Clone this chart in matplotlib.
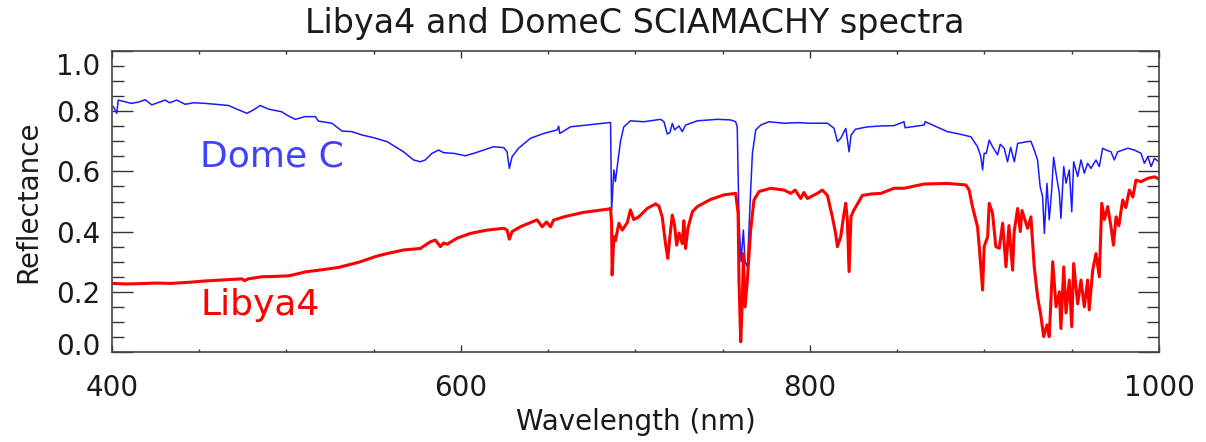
import matplotlib
matplotlib.use("Agg")
import matplotlib.pyplot as plt
from matplotlib.ticker import MultipleLocator, FixedLocator
from matplotlib.transforms import ScaledTranslation

# ---------------- data ----------------
domec_wl = [400.8, 402.7, 403.6, 407, 411, 415, 419, 422.8, 427, 430.4, 433, 437, 441.9, 447,
            453.4, 459, 466.7, 471.5, 477.3, 481, 484.9, 489.7, 497.3, 500.2, 505, 510.7, 516.5,
            518.3, 526, 531.8, 537.5, 543.3, 549.9, 557.6, 567.1, 572.8, 576.7, 579.5, 583.4,
            587.2, 590, 595.8, 602.5, 607.3, 613, 618.7, 624.5, 626.4, 627.7, 629.3, 633, 639.8,
            647.4, 655.1, 656, 656.6, 662.7, 672.3, 684.7, 685.7, 686.3, 687.6, 688.5, 689.5,
            691.4, 693.3, 697.1, 704.8, 714.4, 716.3, 718.2, 719.7, 721.1, 722.4, 724.9, 726.8,
            728.7, 735.4, 746.9, 754.5, 757.4, 758.3, 759.3, 760.5, 761.8, 762.8, 764.1, 766,
            767, 768.9, 771.8, 776.5, 785.1, 792.8, 800.4, 810, 813.8, 815.7, 817.6, 820.5,
            822.4, 823.5, 826, 833, 840.6, 848, 853.9, 854.5, 865.4, 866, 878.8, 885, 892.2,
            896, 897.9, 898.9, 899.8, 901, 902.7, 904.6, 907.5, 909, 911.3, 913.2, 915, 917.1,
            919, 924.7, 926.6, 928.5, 930.4, 931.9, 933.3, 934.3, 935.8, 937.1, 938.5, 939.6,
            941, 942.9, 943.8, 945.4, 946.7, 948.6, 950, 951.1, 953.4, 955.3, 957.2, 959.1,
            961, 963.9, 965.8, 967.7, 969.6, 972.5, 974.4, 976.3, 982.1, 985.9, 989.7, 991.6,
            993.6, 995.5, 997.4, 1000]
domec_refl = [0.815, 0.793, 0.837, 0.832, 0.826, 0.830, 0.838, 0.821, 0.830, 0.837, 0.828, 0.837,
              0.823, 0.828, 0.826, 0.823, 0.819, 0.807, 0.793, 0.804, 0.819, 0.807, 0.798, 0.787,
              0.773, 0.782, 0.782, 0.767, 0.760, 0.734, 0.732, 0.721, 0.712, 0.699, 0.665, 0.638,
              0.632, 0.638, 0.660, 0.671, 0.662, 0.660, 0.652, 0.660, 0.671, 0.682, 0.679, 0.665,
              0.610, 0.649, 0.677, 0.710, 0.726, 0.738, 0.750, 0.726, 0.748, 0.754, 0.762, 0.762,
              0.472, 0.605, 0.566, 0.615, 0.700, 0.748, 0.768, 0.765, 0.773, 0.765, 0.724, 0.729,
              0.759, 0.738, 0.751, 0.732, 0.754, 0.768, 0.773, 0.771, 0.765, 0.748, 0.439, 0.300,
              0.405, 0.300, 0.283, 0.538, 0.660, 0.738, 0.754, 0.765, 0.760, 0.762, 0.760, 0.760,
              0.743, 0.699, 0.710, 0.743, 0.665, 0.720, 0.740, 0.748, 0.751, 0.752, 0.765, 0.745,
              0.754, 0.765, 0.732, 0.725, 0.715, 0.682, 0.649, 0.605, 0.660, 0.660, 0.704, 0.682,
              0.655, 0.690, 0.677, 0.632, 0.680, 0.632, 0.693, 0.699, 0.700, 0.671, 0.638, 0.549,
              0.516, 0.394, 0.560, 0.439, 0.538, 0.647, 0.593, 0.527, 0.444, 0.616, 0.561, 0.605,
              0.466, 0.632, 0.583, 0.638, 0.594, 0.627, 0.610, 0.638, 0.616, 0.677, 0.671, 0.665,
              0.638, 0.665, 0.677, 0.671, 0.660, 0.627, 0.649, 0.616, 0.643, 0.632]

libya_wl = [400, 408, 415, 425, 434, 445, 453.4, 465, 474.4, 476, 478, 485.9, 493, 501.1, 505,
            510.7, 520, 529.8, 536, 541.3, 546, 550.9, 557.6, 567.1, 576.7, 582.4, 585.3, 588.2,
            590, 592, 594, 597.7, 605.4, 614.9, 624.5, 626.4, 627.7, 629.3, 634, 643.6, 646.5,
            649, 651.3, 653, 658.9, 670.3, 684.7, 685.7, 686.3, 686.6, 687.6, 688.5, 690.5,
            692.4, 695.3, 697.1, 699, 701.9, 703.8, 706.7, 711.5, 713.4, 715.3, 717.2, 718.5,
            719.7, 721.1, 722.4, 723.6, 725, 726.8, 727.7, 728.7, 730, 732.6, 735.4, 743.1,
            750.7, 757.4, 758.8, 759.3, 760.3, 761.3, 761.8, 762.8, 764.1, 766, 767.9, 770.8,
            777.5, 785.1, 789, 791.5, 794.7, 796.5, 798.5, 804.2, 807.1, 810, 812.8, 814.7,
            815.7, 817.6, 819.5, 820.5, 821.4, 822.4, 823.5, 825, 830, 835, 840.6, 848.2, 853.9,
            865.4, 878.8, 889.3, 891.2, 893.1, 896, 897, 898.9, 899.8, 901.8, 902.7, 904.6,
            906.5, 908.5, 910.4, 912.3, 914, 916.1, 917, 919, 920.5, 921.5, 924.7, 926.6, 928.5,
            930.4, 932.4, 933.9, 935.8, 937.1, 939.1, 941, 942.9, 943.8, 945.4, 946.7, 948.6,
            950, 951.1, 953.4, 955.3, 957.2, 959.1, 960, 962, 963.9, 965.8, 967.2, 968.7, 970.6,
            972.5, 973.9, 975.4, 977, 979.2, 981, 983, 985, 986.8, 989.7, 993.6, 997.4, 1000]
libya_refl = [0.228, 0.226, 0.227, 0.229, 0.228, 0.232, 0.236, 0.240, 0.243, 0.237, 0.243, 0.250,
              0.251, 0.253, 0.258, 0.266, 0.273, 0.281, 0.290, 0.298, 0.307, 0.317, 0.327, 0.339,
              0.344, 0.366, 0.372, 0.350, 0.362, 0.358, 0.365, 0.378, 0.394, 0.405, 0.411, 0.405,
              0.375, 0.400, 0.416, 0.439, 0.416, 0.432, 0.416, 0.438, 0.449, 0.464, 0.475, 0.477,
              0.428, 0.256, 0.383, 0.370, 0.428, 0.405, 0.430, 0.472, 0.440, 0.449, 0.460, 0.477,
              0.492, 0.485, 0.449, 0.360, 0.311, 0.383, 0.455, 0.420, 0.355, 0.395, 0.360, 0.436,
              0.344, 0.410, 0.466, 0.483, 0.507, 0.522, 0.527, 0.461, 0.239, 0.034, 0.184, 0.327,
              0.150, 0.239, 0.405, 0.505, 0.533, 0.544, 0.538, 0.527, 0.538, 0.510, 0.530, 0.510,
              0.527, 0.538, 0.520, 0.449, 0.394, 0.350, 0.383, 0.461, 0.494, 0.440, 0.267, 0.450,
              0.470, 0.520, 0.525, 0.527, 0.544, 0.544, 0.558, 0.560, 0.555, 0.538, 0.483, 0.416,
              0.350, 0.206, 0.350, 0.383, 0.494, 0.461, 0.350, 0.345, 0.428, 0.283, 0.420, 0.272,
              0.400, 0.477, 0.400, 0.470, 0.411, 0.449, 0.283, 0.184, 0.117, 0.051, 0.090, 0.051,
              0.300, 0.150, 0.200, 0.078, 0.283, 0.130, 0.239, 0.084, 0.294, 0.160, 0.239, 0.150,
              0.239, 0.140, 0.272, 0.327, 0.250, 0.494, 0.440, 0.483, 0.416, 0.355, 0.449, 0.420,
              0.505, 0.480, 0.538, 0.515, 0.571, 0.566, 0.577, 0.582, 0.574]

x_ticks = [400, 600, 800, 1000]
y_ticks = [0.0, 0.2, 0.4, 0.6, 0.8, 1.0]
y_tick_labels = ["0.0", "0.2", "0.4", "0.6", "0.8", "1.0"]

# ---------------- figure ----------------
plt.rcParams['font.family'] = ['DejaVu Sans']
fig = plt.figure(figsize=(12.06, 4.42), dpi=100)
ax = fig.add_axes([112 / 1206, 1 - 352 / 442, (1159 - 112) / 1206, (352 - 51) / 442])

ax.plot(domec_wl, domec_refl, color='#1a1aff', lw=1.1)
ax.plot(libya_wl, libya_refl, color='#ff0000', lw=2.2)

ax.set_xlim(400, 1000)
ax.set_ylim(0, 1)

txt = '#1a1a1a'
ax.xaxis.set_major_locator(FixedLocator(x_ticks))
ax.xaxis.set_minor_locator(MultipleLocator(50))
ax.yaxis.set_major_locator(FixedLocator(y_ticks))
ax.yaxis.set_minor_locator(MultipleLocator(0.05))
ax.set_yticklabels(y_tick_labels)

ax.tick_params(axis='both', which='both', direction='in', top=True, right=True,
               colors='#333333', labelcolor=txt)
ax.tick_params(axis='y', which='major', length=15, width=1.0, labelsize=20, pad=8.5)
ax.tick_params(axis='y', which='minor', length=8.5, width=1.0)
ax.tick_params(axis='x', which='major', length=5, width=1.0, labelsize=20, pad=16)
ax.tick_params(axis='x', which='minor', length=2.5, width=1.0)

for s in ax.spines.values():
    s.set_color('#444444')
    s.set_linewidth(1.2)

# end labels sit inside the frame as in the reference
yt = ax.yaxis.get_major_ticks()
yt[0].label1.set_transform(yt[0].label1.get_transform() + ScaledTranslation(0, 8 / 100, fig.dpi_scale_trans))
yt[-1].label1.set_transform(yt[-1].label1.get_transform() + ScaledTranslation(0, -13 / 100, fig.dpi_scale_trans))

ax.set_xlabel('Wavelength (nm)', fontsize=20, color=txt, labelpad=4)
ax.set_ylabel('Reflectance', fontsize=20, color=txt, labelpad=10)
fig.text(0.5265, 0.985, 'Libya4 and DomeC SCIAMACHY spectra', ha='center', va='top',
         fontsize=24, color=txt)

ax.text(450.5, 0.616, 'Dome C', color='#4040ff', fontsize=26, ha='left', va='baseline')
ax.text(450.5, 0.123, 'Libya4', color='#ff0000', fontsize=26, ha='left', va='baseline')

fig.savefig('out.png', dpi=100)
